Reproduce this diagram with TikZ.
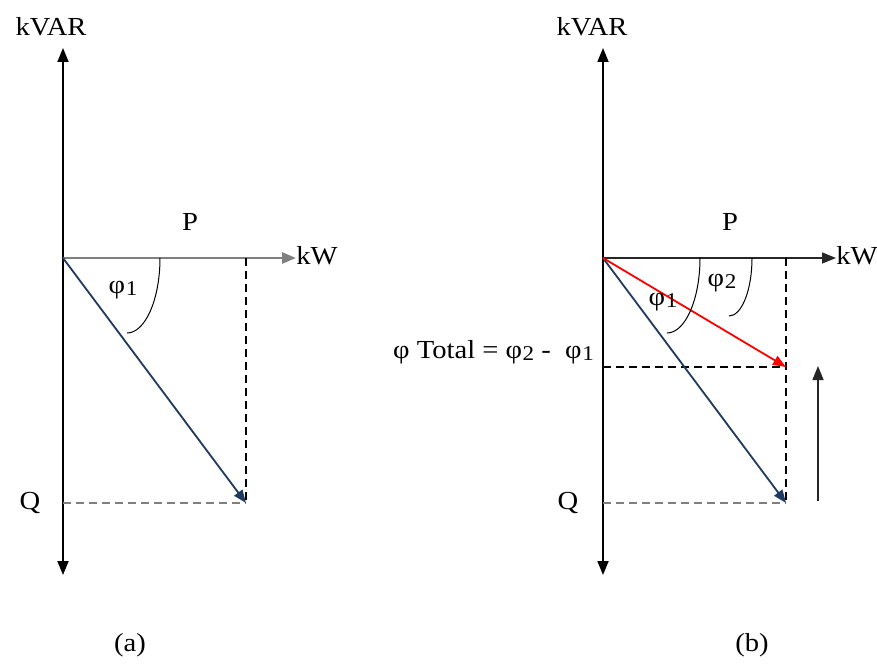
\documentclass[tikz,border=0pt]{standalone}
\usepackage{fontspec}
\setmainfont{Liberation Serif}
\usetikzlibrary{arrows.meta}
\definecolor{navy}{HTML}{1F3A5F}
\definecolor{axgray}{HTML}{7F7F7F}
\tikzset{
  lbl/.style={font=\fontsize{26}{28}\selectfont, inner sep=0pt, text=black},
  axis/.style={line width=1.8pt, -{Triangle[length=14pt,width=11pt]}},
  vec/.style={line width=1.8pt, -{Triangle[length=13pt,width=10pt]}},
  dsh/.style={line width=1.6pt, dash pattern=on 8pt off 5pt},
  arcline/.style={line width=1pt}
}
\newcommand{\sx}[1]{\scalebox{1.1}[1]{#1}}
\newcommand{\phsub}[1]{φ\kern0.5pt\raisebox{-2pt}{\fontsize{21}{22}\selectfont #1}}
\begin{document}
\begin{tikzpicture}[x=1pt,y=-1pt]
\useasboundingbox[fill=white] (0,0) rectangle (877,666);
% ---------- (a) ----------
\coordinate (Oa) at (63,258);
\coordinate (Ta) at (63,48);
\coordinate (Ba) at (63,575);
\coordinate (Ea) at (296,258);
\coordinate (Pa) at (246,258);
\coordinate (Va) at (246,503);
\coordinate (Qa) at (63,503);
\draw[axis] (Oa) -- (Ta);
\draw[axis] (Oa) -- (Ba);
\draw[axis, axgray, line width=2.6pt] (Oa) -- (Ea);
\draw[dsh] (Pa) -- (Va);
\draw[dsh, axgray] (Qa) -- (Va);
\draw[vec, navy] (Oa) -- (Va);
\draw[arcline] (160,258) .. controls (160,299.4) and (145.2,333) .. (127,333);
\node[lbl] (kvara) at (51,27) {\sx{kVAR}};
\node[lbl] (kwa) at (317,256) {\sx{kW}};
\node[lbl] (pa) at (190,222) {\sx{P}};
\node[lbl] (qa) at (30,503) {\sx{Q}};
\node[lbl] (phia) at (123,290) {\sx{\phsub{1}}};
\node[lbl] (capa) at (130,645) {\sx{(a)}};
% ---------- (b) ----------
\coordinate (Ob) at (603,258);
\coordinate (Tb) at (603,48);
\coordinate (Bb) at (603,575);
\coordinate (Eb) at (836,258);
\coordinate (Pb) at (786,258);
\coordinate (Rb) at (786,367);
\coordinate (Vb) at (786,503);
\coordinate (Mb) at (603,367);
\coordinate (Qb) at (603,503);
\coordinate (Ub1) at (818,501);
\coordinate (Ub2) at (818,366);
\draw[axis] (Ob) -- (Tb);
\draw[axis] (Ob) -- (Bb);
\draw[axis, line width=1.4pt, black!85] (Ob) -- (Eb);
\draw[dsh] (Pb) -- (Vb);
\draw[dsh] (Mb) -- (Rb);
\draw[dsh, axgray] (Qb) -- (Vb);
\draw[vec, navy] (Ob) -- (Vb);
\draw[vec, red] (Ob) -- (Rb);
\draw[axis, line width=1.4pt, black!85] (Ub1) -- (Ub2);
\draw[arcline] (700,258) .. controls (700,299.4) and (685.2,333) .. (667,333);
\draw[arcline] (752,258) .. controls (752,290) and (741.7,316) .. (729,316);
\node[lbl] (kvarb) at (592,27) {\sx{kVAR}};
\node[lbl] (kwb) at (857,256) {\sx{kW}};
\node[lbl] (pb) at (730,222) {\sx{P}};
\node[lbl] (qb) at (568,503) {\sx{Q}};
\node[lbl] (phib1) at (663,302) {\sx{\phsub{1}}};
\node[lbl] (phib2) at (722,283) {\sx{\phsub{2}}};
\node[lbl, anchor=east] (tot) at (594,352) {\sx{φ Total = \phsub{2} -\ \ \phsub{1}}};
\node[lbl] (capb) at (752,645) {\sx{(b)}};
\end{tikzpicture}
\end{document}
